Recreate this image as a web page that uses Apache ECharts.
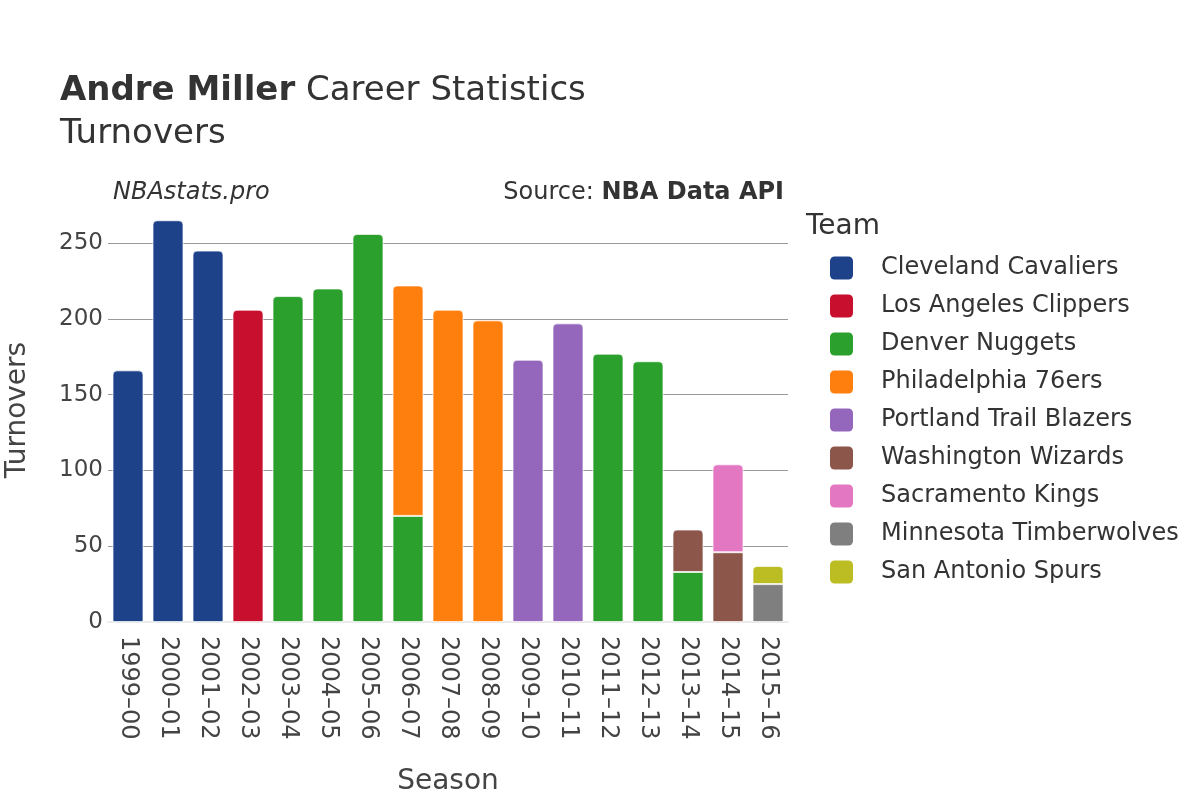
<!DOCTYPE html>
<html>
<head>
<meta charset="utf-8">
<script src="https://cdn.jsdelivr.net/npm/echarts@6/dist/echarts.min.js"></script>
<style>
  html, body { margin: 0; padding: 0; background: #fff; }
  #chart { width: 1200px; height: 800px; }
</style>
</head>
<body>
<div id="chart"></div>
<script>
const seasons = ['1999–00', '2000–01', '2001–02', '2002–03', '2003–04', '2004–05', '2005–06', '2006–07',
  '2007–08', '2008–09', '2009–10', '2010–11', '2011–12', '2012–13', '2013–14', '2014–15', '2015–16']

const teams = ['Cleveland Cavaliers', 'Los Angeles Clippers', 'Denver Nuggets', 'Philadelphia 76ers',
  'Portland Trail Blazers', 'Washington Wizards', 'Sacramento Kings', 'Minnesota Timberwolves', 'San Antonio Spurs']

const teamColors = ['#1d428a', '#c8102e', '#2ca02c', '#ff7f0e', '#9467bd', '#8c564b', '#e377c2', '#7f7f7f', '#bcbd22']

// turnovers per season, one array per team (null = did not play there)
const cleveland  = [166, 265, 245, null, null, null, null, null, null, null, null, null, null, null, null, null, null]
const clippers   = [null, null, null, 206, null, null, null, null, null, null, null, null, null, null, null, null, null]
const denver     = [null, null, null, null, 215, 220, 256, 70, null, null, null, null, 177, 172, 33, null, null]
const philly     = [null, null, null, null, null, null, null, 152, 206, 199, null, null, null, null, null, null, null]
const portland   = [null, null, null, null, null, null, null, null, null, null, 173, 197, null, null, null, null, null]
const washington = [null, null, null, null, null, null, null, null, null, null, null, null, null, null, 28, 46, null]
const sacramento = [null, null, null, null, null, null, null, null, null, null, null, null, null, null, null, 58, null]
const minnesota  = [null, null, null, null, null, null, null, null, null, null, null, null, null, null, null, null, 25]
const spurs      = [null, null, null, null, null, null, null, null, null, null, null, null, null, null, null, null, 12]

const yTicks = [0, 50, 100, 150, 200, 250]

const teamValues = [cleveland, clippers, denver, philly, portland, washington, sacramento, minnesota, spurs]
const font = 'DejaVu Sans'
const ink = '#333'

const chart = echarts.init(document.getElementById('chart'))

const series = teams.map((name, t) => ({
  name,
  type: 'bar',
  stack: 'total',
  clip: false,
  barWidth: 31,
  itemStyle: { color: teamColors[t] },
  data: teamValues[t].map((v, i) => {
    if (v == null) return null
    const onTop = !teamValues.slice(t + 1).some(arr => arr[i] != null)
    return {
      value: v,
      itemStyle: {
        borderColor: 'rgba(255,255,255,0.7)',
        borderWidth: 1,
        borderRadius: onTop ? [4, 4, 0, 0] : 0
      }
    }
  })
}))

// small rounded square for the legend keys
const keyIcon = 'path://M2,0H8A2,2 0 0 1 10,2V8A2,2 0 0 1 8,10H2A2,2 0 0 1 0,8V2A2,2 0 0 1 2,0Z'

chart.setOption({
  animation: false,
  textStyle: { fontFamily: font },
  title: {
    text: '{b|Andre Miller}{n| Career Statistics}\n{n|Turnovers}',
    left: 55,
    top: 65,
    textStyle: {
      fontWeight: 'normal',
      rich: {
        b: { fontFamily: font, fontWeight: 'bold', fontSize: 34, color: ink, lineHeight: 43 },
        n: { fontFamily: font, fontWeight: 'normal', fontSize: 34, color: ink, lineHeight: 43 }
      }
    }
  },
  graphic: [
    { type: 'text', left: 113, top: 181, style: { text: 'NBAstats.pro', font: 'italic 24px "DejaVu Sans"', fill: ink } },
    { type: 'text', right: 416, top: 181, style: {
      text: '{n|Source: }{b|NBA Data API}',
      rich: {
        n: { fontFamily: font, fontSize: 24, fill: ink },
        b: { fontFamily: font, fontSize: 24, fontWeight: 'bold', fill: ink }
      }
    } },
    { type: 'text', left: 806, top: 213, style: { text: 'Team', font: '28px "DejaVu Sans"', fill: ink } },
    { type: 'text', x: 18, y: 410, rotation: Math.PI / 2, style: {
      text: 'Turnovers', font: '28px "DejaVu Sans"', fill: '#444', align: 'center', verticalAlign: 'middle'
    } }
  ],
  legend: {
    orient: 'vertical',
    left: 825,
    top: 251,
    itemWidth: 23,
    itemHeight: 23,
    itemGap: 14,
    icon: keyIcon,
    selectedMode: false,
    textStyle: { fontFamily: font, fontSize: 24, color: ink, padding: [0, 0, 0, 23] },
    data: teams
  },
  grid: { left: 108, right: 412, top: 243, bottom: 178 },
  xAxis: {
    type: 'category',
    data: seasons,
    name: 'Season',
    nameLocation: 'middle',
    nameGap: 146,
    nameTextStyle: { fontFamily: font, fontSize: 28, color: '#444' },
    axisLine: { lineStyle: { color: '#ebebeb', width: 2 } },
    axisTick: { show: false },
    axisLabel: { rotate: -90, fontFamily: font, fontSize: 24, color: '#444', margin: 14 }
  },
  yAxis: {
    type: 'value',
    min: 0,
    max: yTicks[yTicks.length - 1],
    interval: 50,
    axisLine: { show: false },
    axisTick: { show: false },
    axisLabel: { fontFamily: font, fontSize: 23, color: '#444', margin: 5 },
    splitLine: { lineStyle: { color: '#999', width: 1 } }
  },
  series
})
</script>
</body>
</html>
